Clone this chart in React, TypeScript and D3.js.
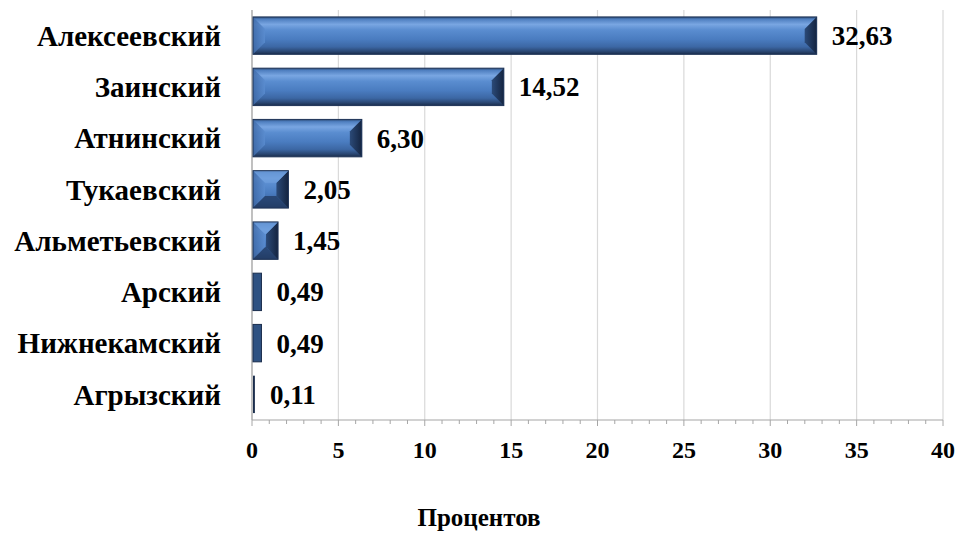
import React from "react";
import * as d3 from "d3";

const categories = ["Алексеевский", "Заинский", "Атнинский", "Тукаевский", "Альметьевский", "Арский", "Нижнекамский", "Агрызский"];
const values = [32.63, 14.52, 6.3, 2.05, 1.45, 0.49, 0.49, 0.11];
const valueLabels = ["32,63", "14,52", "6,30", "2,05", "1,45", "0,49", "0,49", "0,11"];
const majorTicks = [0, 5, 10, 15, 20, 25, 30, 35, 40];
const axisTitle = "Процентов";

const W = 960, H = 533;
const FONT = "'Liberation Serif', 'Times New Roman', serif";

export default function App() {
  const x = d3.scaleLinear().domain([0, 40]).range([252, 943]);
  const y = d3.scaleBand<string>().domain(categories).range([10, 420]).paddingInner(0.27).paddingOuter(0.135);
  const minor = d3.range(0, 41, 1);
  const bh = y.bandwidth();

  return (
    <svg width={W} height={H} style={{ display: "block", position: "absolute", left: 0, top: 0 }}>
      <defs>
        <linearGradient id="face" x1="0" y1="0" x2="0" y2="1">
          <stop offset="0" stopColor="#2c4a74" />
          <stop offset="0.06" stopColor="#4f7fc0" />
          <stop offset="0.2" stopColor="#79a6e2" />
          <stop offset="0.35" stopColor="#5a8dd0" />
          <stop offset="0.6" stopColor="#4a7cc0" />
          <stop offset="0.8" stopColor="#3c67a4" />
          <stop offset="0.92" stopColor="#2a4773" />
          <stop offset="1" stopColor="#1a2d4c" />
        </linearGradient>
        <linearGradient id="leftB" x1="0" y1="0" x2="1" y2="0">
          <stop offset="0" stopColor="#3f6aa8" />
          <stop offset="1" stopColor="#5a8ccf" />
        </linearGradient>
        <linearGradient id="rightB" x1="0" y1="0" x2="1" y2="0">
          <stop offset="0" stopColor="#2b4a78" />
          <stop offset="1" stopColor="#142440" />
        </linearGradient>
      </defs>
      <rect x={0} y={0} width={W} height={H} fill="#ffffff" />
      {majorTicks.map((t) => (
        <line key={"g" + t} x1={x(t)} x2={x(t)} y1={10} y2={420} stroke="#d9d9d9" strokeWidth={1.2} />
      ))}
      <line x1={x(0)} x2={x(0)} y1={10} y2={420} stroke="#a6a6a6" strokeWidth={1.2} />
      {categories.map((c, i) => {
        const x0 = x(0) + 1;
        const w = Math.max(1.5, x(values[i]) - x(0));
        const y0 = y(c)!;
        const b = Math.min(12, w / 2, bh / 2);
        const x1 = x0 + w, y1 = y0 + bh;
        if (w < 12) {
          return (
            <g key={c}>
              <rect x={x0} y={y0} width={w} height={bh} fill={w < 3 ? "#1a2d4c" : "#2f5282"} stroke="#1a2d4c" strokeWidth={w < 3 ? 0 : 1} />
            </g>
          );
        }
        return (
          <g key={c}>
            <rect x={x0} y={y0} width={w} height={bh} fill="url(#face)" />
            <polygon points={`${x0},${y0} ${x0 + b},${y0 + b} ${x0 + b},${y1 - b} ${x0},${y1}`} fill="url(#leftB)" opacity={0.85} />
            <polygon points={`${x1},${y0} ${x1 - b},${y0 + b} ${x1 - b},${y1 - b} ${x1},${y1}`} fill="url(#rightB)" />
            {w < 60 && (
              <>
                <polygon points={`${x0},${y0} ${x1},${y0} ${x1 - b},${y0 + b} ${x0 + b},${y0 + b}`} fill="#6d9ddc" opacity={0.8} />
                <polygon points={`${x0},${y1} ${x1},${y1} ${x1 - b},${y1 - b} ${x0 + b},${y1 - b}`} fill="#24406a" opacity={0.85} />
              </>
            )}
            <rect x={x0} y={y0} width={w} height={bh} fill="none" stroke="#1f3457" strokeWidth={1} />
          </g>
        );
      })}
      <line x1={x(0)} x2={x(40)} y1={420} y2={420} stroke="#a6a6a6" strokeWidth={1.2} />
      {minor.map((t) => (
        <line key={"m" + t} x1={x(t)} x2={x(t)} y1={420} y2={t % 5 === 0 ? 426 : 424} stroke="#a6a6a6" strokeWidth={1} />
      ))}
      {majorTicks.map((t) => (
        <text key={"t" + t} x={x(t)} y={458} textAnchor="middle" fontFamily={FONT} fontWeight="bold" fontSize={24} fill="#000">
          {t}
        </text>
      ))}
      {categories.map((c) => (
        <text key={"c" + c} x={221} y={y(c)! + bh / 2} dy="0.35em" textAnchor="end" fontFamily={FONT} fontWeight="bold" fontSize={29} fill="#000">
          {c}
        </text>
      ))}
      {categories.map((c, i) => (
        <text key={"v" + c} x={x(values[i]) + 16} y={y(c)! + bh / 2} dy="0.35em" textAnchor="start" fontFamily={FONT} fontWeight="bold" fontSize={27} fill="#000">
          {valueLabels[i]}
        </text>
      ))}
      <text x={479} y={526} textAnchor="middle" fontFamily={FONT} fontWeight="bold" fontSize={25} fill="#000">
        {axisTitle}
      </text>
    </svg>
  );
}
